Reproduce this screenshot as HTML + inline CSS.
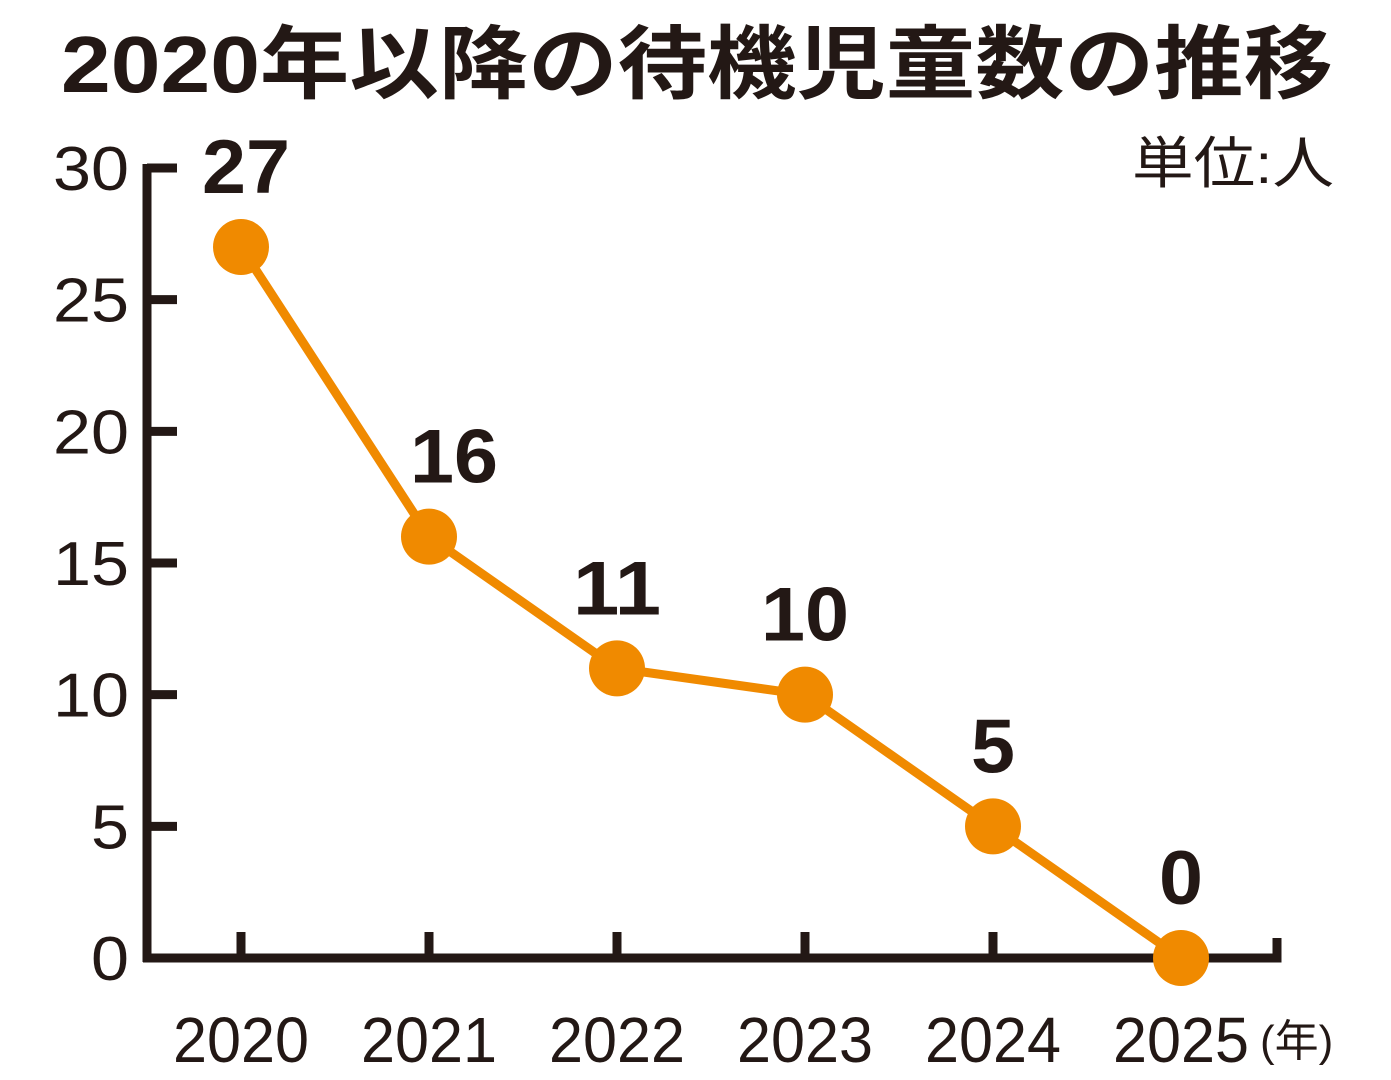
<!DOCTYPE html>
<html><head><meta charset="utf-8"><style>
html,body{margin:0;padding:0;background:#fff;}
svg{display:block;}
text{font-family:"Liberation Sans","Noto Sans CJK JP",sans-serif;fill:#231815;}
</style></head><body>
<svg id="chart" width="1391" height="1080" viewBox="0 0 1391 1080">
<text x="697" y="92" text-anchor="middle" font-size="80" font-weight="bold" textLength="1272" lengthAdjust="spacingAndGlyphs">2020年以降の待機児童数の推移</text>
<text x="1334" y="183" text-anchor="end" font-size="56" textLength="202" lengthAdjust="spacingAndGlyphs">単位:人</text>
<g id="axes"></g>
<g id="series"></g>
</svg>
<script>
const categories=["2020","2021","2022","2023","2024","2025"];
const values=[27,16,11,10,5,0];
const yTicks=[0,5,10,15,20,25,30];
const NS="http://www.w3.org/2000/svg";
const y=v=>958-v*(790/30);
const x=i=>241+i*188;
const ax=document.getElementById('axes'),se=document.getElementById('series');
function mk(tag,attrs,parent){const e=document.createElementNS(NS,tag);for(const k in attrs)e.setAttribute(k,attrs[k]);parent.appendChild(e);return e;}
const C="#231815",O="#F08A00";
let yl=mk('line',{x1:147,y1:y(30)-4,x2:147,y2:962,stroke:C,'stroke-width':9},ax);


let xl=mk('polyline',{points:`143,958 1277,958 1277,938`,fill:'none',stroke:C,'stroke-width':9},ax);


yTicks.forEach(t=>{
 let l=mk('line',{x1:147,y1:y(t),x2:177,y2:y(t),stroke:C,'stroke-width':9},ax);
 
 
 const s=String(t);
 let tx=mk('text',{x:129,y:y(t)+22,'text-anchor':'end','font-size':62,textLength:s.length*38,lengthAdjust:'spacingAndGlyphs'},ax);
 tx.textContent=s;
 
 
});
categories.forEach((c,i)=>{
 let l=mk('line',{x1:x(i),y1:932,x2:x(i),y2:958,stroke:C,'stroke-width':9},ax);
 
 
 let tx=mk('text',{x:x(i),y:1062,'text-anchor':'middle','font-size':64,textLength:136,lengthAdjust:'spacingAndGlyphs'},ax);
 tx.textContent=c;
 
 
});
let yr=mk('text',{x:1260,y:1056,'font-size':44},ax);
yr.textContent='(年)';


let pl=mk('polyline',{points:values.map((v,i)=>x(i)+','+y(v)).join(' '),fill:'none',stroke:O,'stroke-width':9,'stroke-linejoin':'round'},se);


values.forEach((v,i)=>{
 let c=mk('circle',{cx:x(i),cy:y(v),r:28,fill:O},se);
 
 
 const s=String(v);
 let t=mk('text',{x:x(i)+(i==0?5:i==1?25:0),y:y(v)-54,'text-anchor':'middle','font-size':76,'font-weight':'bold',textLength:s.length*44,lengthAdjust:'spacingAndGlyphs'},se);
 t.textContent=s;
 
 
});
</script>
</body></html>
